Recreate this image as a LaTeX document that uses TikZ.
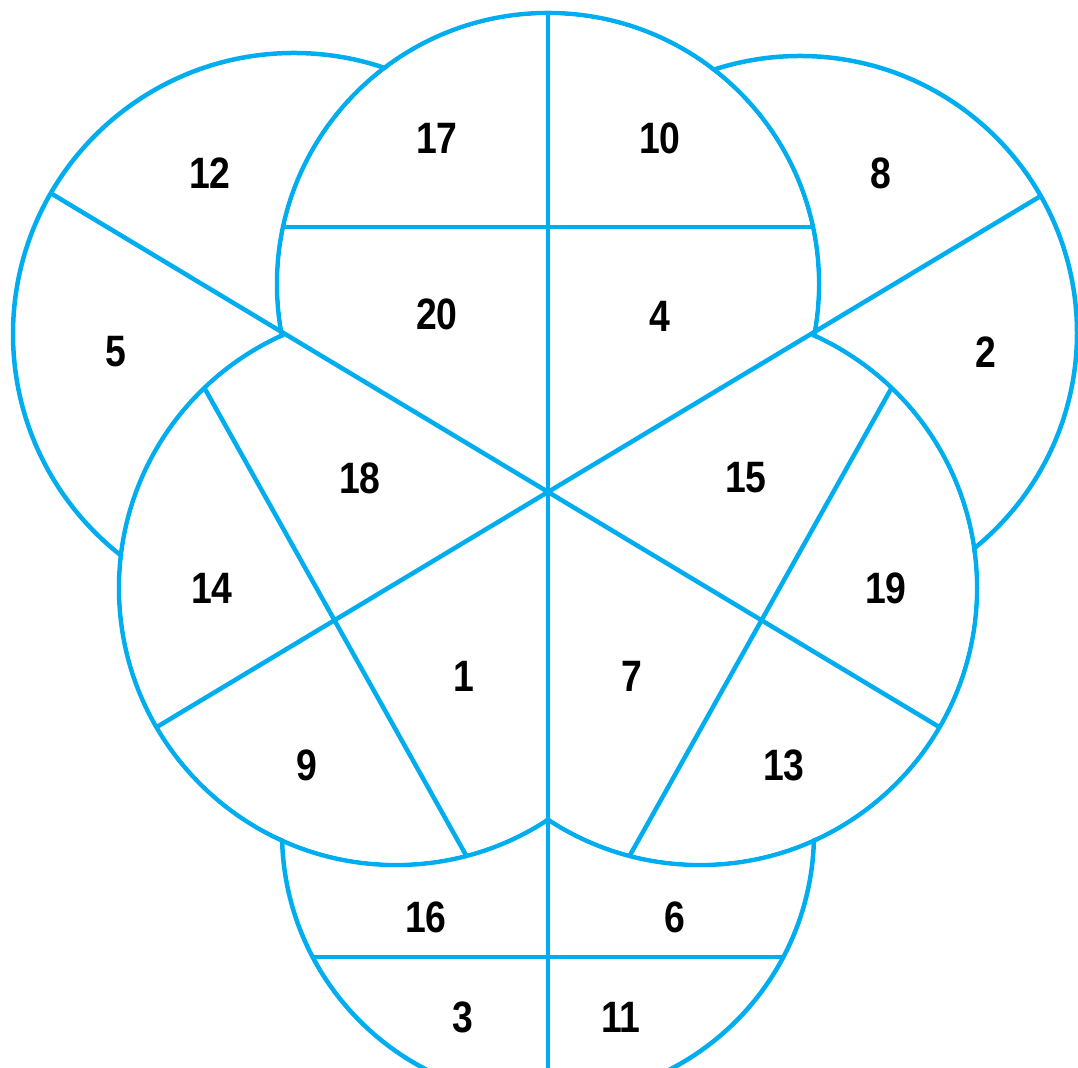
\documentclass[tikz,border=0pt]{standalone}
\usepackage{fontspec}
\newfontfamily\numfont{Liberation Sans}[FakeStretch=0.85]
\definecolor{ringblue}{HTML}{00AEEF}
\tikzset{
    ring/.style={draw=ringblue,line width=0.45mm},
    num/.style={font=\numfont\bfseries\fontsize{12.5pt}{14pt}\selectfont,inner sep=0pt}
}

\begin{document}
\begin{tikzpicture}
    [x=0.01cm,y=-0.01cm]
    \clip (0,0) rectangle (1078,1068);
    %back circles
    \draw[ring] (294,334) circle[radius=281];
    \draw[ring] (800,333) circle[radius=277];
    \draw[ring] (548,833) circle[radius=266];
    %front circles
    \draw[ring] (548,284) circle[radius=271];
    \draw[ring] (396,588) circle[radius=277];
    \draw[ring] (700,588) circle[radius=277];
    %wipe what lies behind the front circles
    \fill[white] (548,284) circle[radius=268.6];
    \fill[white] (396,588) circle[radius=274.6];
    \fill[white] (700,588) circle[radius=274.6];
    %spokes through the middle
    \draw[ring] (548,13)--(548,1068);
    \draw[ring] (50.7,193.2)--(939.5,727.2);
    \draw[ring] (1040.4,196.2)--(156.5,727.2);
    %chords
    \draw[ring] (283.1,227)--(812.9,227);
    \draw[ring] (205,389)--(467,857);
    \draw[ring] (891,389)--(629,857);
    \draw[ring] (312.7,957)--(783.3,957);
    %numbers
    \node[num] (n12) at (210,173) {12};
    \node[num] (n5) at (116,352) {5};
    \node[num] (n17) at (437,138) {17};
    \node[num] (n10) at (660,138) {10};
    \node[num] (n8) at (881,173) {8};
    \node[num] (n2) at (986,352) {2};
    \node[num] (n20) at (437,314) {20};
    \node[num] (n4) at (660,316) {4};
    \node[num] (n18) at (360,478) {18};
    \node[num] (n15) at (746,478) {15};
    \node[num] (n14) at (212,588) {14};
    \node[num] (n19) at (886,588) {19};
    \node[num] (n1) at (464,676) {1};
    \node[num] (n7) at (632,676) {7};
    \node[num] (n9) at (307,765) {9};
    \node[num] (n13) at (784,765) {13};
    \node[num] (n16) at (426,917) {16};
    \node[num] (n6) at (675,917) {6};
    \node[num] (n3) at (463,1017) {3};
    \node[num] (n11) at (621,1017) {11};
\end{tikzpicture}
\end{document}
